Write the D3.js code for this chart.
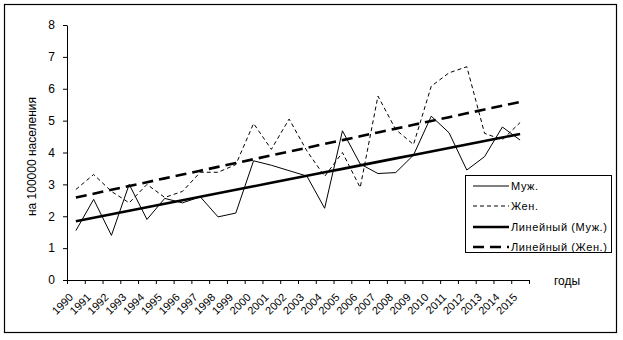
<!DOCTYPE html>
<html><head><meta charset="utf-8">
<script src="https://cdn.jsdelivr.net/npm/d3@7"></script>
<style>
html,body{margin:0;padding:0;background:#fff;}
text{font-family:"Liberation Sans",Arial,sans-serif;fill:#000;}
</style></head>
<body><svg id="c" width="623" height="340"></svg>
<script>
const years = [1990,1991,1992,1993,1994,1995,1996,1997,1998,1999,2000,2001,2002,2003,2004,2005,2006,2007,2008,2009,2010,2011,2012,2013,2014,2015];
const male = [1.55,2.53,1.40,3.00,1.90,2.56,2.42,2.61,1.98,2.10,3.74,3.60,3.43,3.26,2.25,4.68,3.64,3.34,3.37,3.92,5.14,4.62,3.45,3.87,4.80,4.39];
const female = [2.84,3.31,2.78,2.42,3.00,2.59,2.78,3.38,3.38,3.62,4.91,4.10,5.05,4.05,3.25,4.00,2.90,5.77,4.72,4.25,6.08,6.50,6.69,4.60,4.40,4.94];
const yTicks = [0,1,2,3,4,5,6,7,8];
const legendLabels = ["Муж.","Жен.","Линейный (Муж.)","Линейный (Жен.)"];
const yTitle = "на 100000 населения";
const xTitle = "годы";

const svg = d3.select("#c");
svg.append("rect").attr("x",4.5).attr("y",4.5).attr("width",612).attr("height",328)
  .attr("fill","#fff").attr("stroke","#000").attr("stroke-width",1.2);

const L=67, R=529, T=25, B=280;
const x = d3.scaleBand().domain(years).range([L,R]).padding(0);
const xi = d3.scaleLinear().domain([0,years.length]).range([L,R]);
const y = d3.scaleLinear().domain([0,8]).range([B,T]);
const cx = d => x(d)+x.bandwidth()/2;

// y axis
const ya = svg.append("g").attr("transform",`translate(${L},0)`)
  .call(d3.axisLeft(y).tickValues(yTicks).tickSize(4).tickSizeOuter(0).tickPadding(8));
ya.select(".domain").attr("stroke","#000");
ya.selectAll("text").attr("font-size","12px").attr("font-family","Liberation Sans, Arial");

// x axis
const xa = svg.append("g").attr("transform",`translate(0,${B})`)
  .call(d3.axisBottom(xi).tickValues(d3.range(0,years.length+1)).tickSize(4).tickSizeOuter(0).tickFormat(""));
xa.select(".domain").attr("stroke","#000");
svg.append("g").selectAll("text").data(years).join("text")
  .attr("transform",d=>`translate(${cx(d)-2},${B+18}) rotate(-45)`)
  .attr("text-anchor","end").attr("font-size","11px").text(d=>d);

// regression (Excel-style linear trendline)
function fit(vals){
  const n=vals.length, xs=d3.range(n);
  const mx=d3.mean(xs), my=d3.mean(vals);
  let sxy=0,sxx=0; xs.forEach((v,i)=>{sxy+=(v-mx)*(vals[i]-my);sxx+=(v-mx)*(v-mx);});
  const b=sxy/sxx, a=my-b*mx;
  return xs.map(i=>a+b*i);
}
const line = d3.line().x((d,i)=>cx(years[i])).y(d=>y(d));
svg.append("path").datum(male).attr("d",line).attr("fill","none").attr("stroke","#000").attr("stroke-width",1);
svg.append("path").datum(female).attr("d",line).attr("fill","none").attr("stroke","#000").attr("stroke-width",1).attr("stroke-dasharray","4,3");
svg.append("path").datum(fit(male)).attr("d",line).attr("fill","none").attr("stroke","#000").attr("stroke-width",2.6);
svg.append("path").datum(fit(female)).attr("d",line).attr("fill","none").attr("stroke","#000").attr("stroke-width",2.6).attr("stroke-dasharray","11,6");

// titles
svg.append("text").attr("transform",`translate(36,${(T+B)/2+4}) rotate(-90)`).attr("text-anchor","middle")
  .attr("font-size","12px").text(yTitle);
svg.append("text").attr("x",554).attr("y",285).attr("font-size","12px").text(xTitle);

// legend
const lg = svg.append("g");
lg.append("rect").attr("x",465.5).attr("y",175.5).attr("width",146).attr("height",77).attr("fill","#fff").attr("stroke","#000").attr("stroke-width",1);
const styles=[{w:1,d:null},{w:1,d:"4,3"},{w:2.6,d:null},{w:2.6,d:"11,6"}];
const rowsY=[186,206,227,247];
legendLabels.forEach((t,i)=>{
  lg.append("line").attr("x1",473).attr("x2",509).attr("y1",rowsY[i]).attr("y2",rowsY[i])
    .attr("stroke","#000").attr("stroke-width",styles[i].w).attr("stroke-dasharray",styles[i].d);
  lg.append("text").attr("x",511).attr("y",rowsY[i]+4).attr("font-size","11px").attr("letter-spacing","0.6px").text(t);
});
</script></body></html>
